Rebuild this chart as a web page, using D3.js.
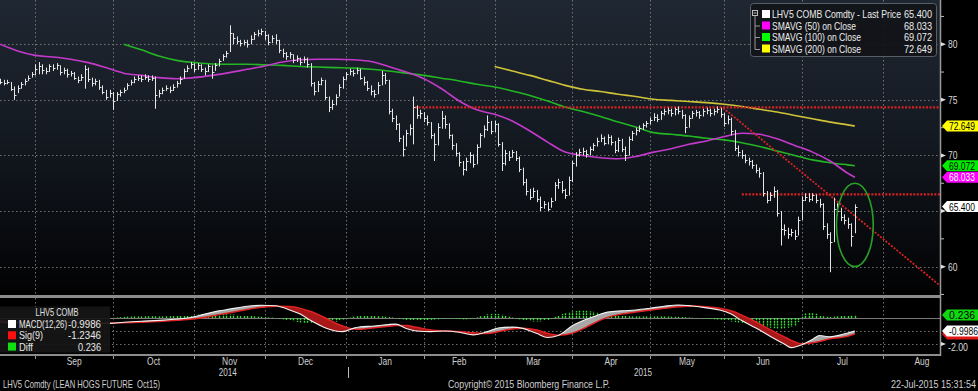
<!DOCTYPE html>
<html><head><meta charset="utf-8">
<script src="https://cdn.jsdelivr.net/npm/d3@7"></script>
<style>
html,body{margin:0;padding:0;background:#000;overflow:hidden;}
svg{display:block;}
text{font-family:"Liberation Sans",Arial,sans-serif;}
</style></head><body>
<svg id="c" width="978" height="391"></svg>
<script>
// ---------- DATA ----------
// daily bars, index = weekday count from 18-Aug-2014 to 22-Jul-2015
const priceHigh = [
76.9,76.8,76.8,76.6,76.2,76.3,76.6,76.9,77.2,77.5,
78.2,78.4,78.2,77.9,78.2,78.2,78.3,78.1,77.9,77.8,
77.6,77.5,77.1,77.3,78.1,77.9,77.0,76.9,76.8,76.3,
75.9,75.9,75.7,75.7,75.9,76.1,76.5,76.8,77.1,77.2,
77.2,77.3,77.2,77.2,77.1,75.9,76.1,76.3,76.2,76.4,
76.7,77.1,77.8,78.1,78.4,78.3,78.3,78.2,77.9,78.2,
78.1,78.3,78.7,79.1,79.4,81.7,81.0,80.7,80.4,80.4,
80.4,80.8,81.1,81.3,81.4,81.2,80.9,80.8,80.9,80.4,
79.6,79.3,79.3,79.1,79.0,78.8,78.9,78.8,78.3,76.6,
76.7,77.0,76.8,75.3,75.0,75.5,76.4,77.1,77.5,77.8,
77.7,77.9,77.8,77.1,76.7,76.3,75.9,76.6,77.6,77.4,
76.8,74.2,73.6,72.9,71.8,72.3,72.8,75.3,74.5,74.1,
73.9,73.6,73.0,72.0,72.9,74.0,73.6,72.9,71.9,71.1,
70.3,69.5,69.8,70.3,70.1,71.0,72.0,72.7,73.6,73.1,
73.1,72.9,71.2,70.5,70.4,70.5,70.4,69.9,68.9,67.9,
67.0,67.1,66.9,66.3,65.9,65.8,66.2,67.6,67.9,67.7,
67.0,68.1,69.5,70.3,70.6,70.7,70.5,70.8,71.1,71.6,
71.9,71.7,71.9,71.8,71.3,71.6,71.5,70.8,71.7,72.2,
72.5,72.7,72.9,73.1,73.4,73.8,73.7,74.0,74.2,74.3,
74.2,74.3,74.4,74.1,73.7,73.6,74.0,74.1,74.0,74.2,
74.3,74.2,74.2,74.4,74.3,73.8,73.6,73.4,72.3,70.9,
70.5,70.1,69.8,69.6,69.2,68.9,68.5,66.8,66.7,67.2,
66.9,65.0,63.8,63.5,63.4,63.3,64.5,66.3,66.6,66.6,
66.6,66.5,66.1,65.7,63.9,63.1,66.2,65.7,65.3,64.7,
64.4,63.9,65.6];
const priceLow = [
76.4,76.3,76.4,75.8,75.0,75.6,76.0,76.3,76.7,77.0,
77.2,77.3,77.3,77.3,77.5,77.6,77.7,77.2,77.3,77.0,
77.1,76.8,76.5,76.7,76.0,76.6,76.2,76.3,75.9,75.5,
75.0,75.2,74.1,74.9,75.3,75.6,75.9,76.3,76.5,76.7,
76.6,76.8,76.6,76.7,74.2,75.2,75.5,75.8,75.6,75.8,
76.1,76.4,76.9,77.5,77.8,77.5,77.7,77.5,77.2,77.5,
76.9,77.6,78.0,78.5,78.8,79.3,80.0,80.0,79.8,79.9,
79.7,80.0,80.4,80.7,80.8,80.4,79.9,80.1,80.0,79.2,
78.8,78.6,78.7,78.3,78.4,78.1,78.3,77.9,76.2,75.4,
75.7,76.3,75.0,73.9,74.1,74.5,75.3,76.0,76.8,77.2,
77.1,77.3,76.8,76.3,75.8,75.4,75.2,75.5,76.3,76.4,
73.7,73.0,72.3,71.2,69.9,70.8,71.8,71.0,73.3,73.3,
73.0,72.7,71.5,69.5,70.9,72.4,72.4,71.5,70.5,69.9,
69.0,68.2,68.6,69.3,68.9,69.2,70.7,71.6,72.2,71.9,
72.1,70.8,68.6,69.1,69.5,69.8,69.5,68.5,67.3,66.4,
66.0,66.2,65.8,65.0,65.2,65.0,65.3,65.9,67.0,66.6,
66.1,66.4,67.6,69.0,69.9,70.0,69.8,70.0,70.4,70.8,
71.2,70.9,71.0,70.9,70.2,70.3,70.3,69.5,70.0,71.3,
71.8,72.1,72.3,72.5,72.8,73.1,73.0,73.2,73.6,73.7,
73.5,73.6,73.7,73.3,72.0,72.5,73.3,73.5,73.3,73.5,
73.7,73.5,73.6,73.8,73.4,72.6,72.8,71.8,70.4,69.9,
69.7,69.3,69.1,68.8,68.4,68.0,66.3,65.7,65.9,66.2,
64.5,61.9,62.8,62.5,62.7,62.4,62.8,64.2,65.9,65.8,
65.9,65.7,65.3,63.3,62.5,59.5,62.2,64.6,64.1,63.8,
63.4,61.8,63.0];
const priceClose = [
76.6,76.5,76.6,76.0,75.4,76.1,76.4,76.7,77.0,77.3,
77.8,78.0,77.7,77.6,78.0,77.9,78.1,77.5,77.7,77.3,
77.4,77.0,76.8,77.1,77.8,76.9,76.5,76.7,76.2,75.7,
75.3,75.6,74.9,75.5,75.7,75.9,76.3,76.6,76.9,77.0,
76.9,77.1,76.9,77.0,75.4,75.6,75.9,76.1,75.9,76.2,
76.5,76.9,77.6,77.9,78.2,77.8,78.1,77.8,77.6,78.0,
77.5,78.1,78.5,78.9,79.2,81.0,80.6,80.3,80.1,80.2,
80.0,80.5,80.9,81.0,81.2,80.8,80.2,80.6,80.4,79.5,
79.2,78.9,79.1,78.6,78.8,78.4,78.7,78.2,76.5,75.8,
76.4,76.8,75.3,74.4,74.6,75.3,76.2,76.9,77.3,77.6,
77.4,77.7,77.0,76.6,76.1,75.8,75.5,76.3,77.2,76.8,
74.0,73.4,72.8,71.6,70.6,72.0,72.5,74.4,73.6,73.8,
73.4,73.0,71.8,71.0,72.6,73.4,72.8,71.8,70.9,70.2,
69.4,68.8,69.5,70.0,69.2,70.8,71.8,72.4,73.0,72.2,
72.8,71.0,69.3,70.2,69.9,70.3,69.8,68.8,67.6,66.8,
66.3,66.8,66.1,65.4,65.6,65.2,65.9,67.3,67.6,66.9,
66.4,67.8,69.3,70.0,70.3,70.4,70.1,70.6,70.9,71.3,
71.6,71.1,71.7,71.2,70.5,71.4,70.6,70.0,71.5,72.0,
72.3,72.5,72.7,72.9,73.2,73.5,73.3,73.8,74.0,74.1,
73.8,74.2,74.0,73.6,72.6,73.4,73.8,73.9,73.6,74.0,
74.1,73.8,74.0,74.2,73.7,72.9,73.3,72.2,70.7,70.3,
70.0,69.6,69.5,69.1,68.7,68.4,66.6,66.0,66.4,66.8,
64.8,63.4,63.3,62.9,63.1,62.8,64.2,66.0,66.3,66.1,
66.4,66.0,65.6,63.7,62.9,62.2,65.2,65.0,64.5,64.2,
63.8,62.8,65.4];

// moving averages sampled at these bar indices
const maIdx = [0,5,10,15,20,25,30,35,40,45,50,55,60,65,70,75,80,85,90,95,100,105,110,115,120,125,130,135,140,145,150,155,160,165,170,175,180,185,190,195,200,205,210,215,220,225,230,235,240,242];
const sma50 = [80.0,79.4,79.0,78.85,78.65,78.35,77.9,77.4,77.2,77.0,76.9,77.0,77.2,77.45,77.75,78.05,78.4,78.6,78.65,78.65,78.6,78.45,78.0,77.5,76.9,76.0,74.9,74.1,73.7,73.1,72.2,71.2,70.3,70.0,69.8,69.7,69.9,70.3,70.6,71.0,71.3,71.7,72.0,71.9,71.5,70.9,70.3,69.5,68.4,68.033];
const sma100 = [null,null,null,null,null,null,null,80.0,79.5,78.95,78.55,78.35,78.22,78.2,78.2,78.15,78.1,78.0,77.95,77.9,77.85,77.75,77.6,77.4,77.2,76.95,76.7,76.4,76.15,75.8,75.4,74.9,74.35,73.95,73.5,73.0,72.55,72.05,71.9,71.75,71.55,71.4,71.15,70.8,70.4,70.0,69.6,69.35,69.15,69.072];
const sma200 = [null,null,null,null,null,null,null,null,null,null,null,null,null,null,null,null,null,null,null,null,null,null,null,null,null,null,null,null,78.0,77.6,77.2,76.75,76.3,75.95,75.75,75.5,75.3,75.05,74.95,74.85,74.75,74.6,74.4,74.15,73.9,73.6,73.3,73.0,72.75,72.649];

// MACD(12,26) and Sig(9), sampled at these bar indices
const macdIdx = [0,5,10,15,20,25,31,35,40,45,50,53,58,62,65,70,74,78,82,85,88,92,95,97,100,102,106,110,112,115,118,122,126,130,134,138,141,145,148,152,155,158,162,166,168,172,176,180,184,188,192,196,200,204,207,210,214,218,222,224,227,230,232,235,238,240,242];
const macdLine = [-0.30,-0.38,-0.35,-0.30,-0.34,-0.40,-0.41,-0.33,-0.25,-0.18,-0.08,0.0,0.30,0.55,0.68,0.90,0.98,0.94,0.62,0.30,-0.20,-0.75,-1.00,-1.05,-0.80,-0.67,-0.62,-0.50,-0.47,-0.80,-1.00,-1.05,-1.00,-1.10,-1.30,-1.05,-0.77,-0.70,-0.80,-1.20,-1.50,-1.35,-0.60,-0.10,0.10,0.45,0.55,0.62,0.75,0.90,1.00,0.92,0.78,0.60,0.30,-0.20,-0.77,-1.40,-2.00,-2.28,-2.05,-1.65,-1.35,-1.45,-1.30,-1.15,-0.9986];
const sigLine = [-0.20,-0.26,-0.30,-0.32,-0.33,-0.36,-0.38,-0.37,-0.33,-0.26,-0.18,-0.12,0.06,0.26,0.40,0.66,0.82,0.91,0.88,0.74,0.50,0.02,-0.40,-0.62,-0.84,-0.86,-0.75,-0.64,-0.57,-0.58,-0.72,-0.92,-1.0,-1.04,-1.14,-1.20,-1.06,-0.84,-0.78,-0.93,-1.18,-1.32,-1.17,-0.70,-0.42,0.05,0.30,0.46,0.60,0.74,0.86,0.93,0.87,0.74,0.56,0.22,-0.30,-0.90,-1.45,-1.72,-1.98,-1.90,-1.80,-1.60,-1.50,-1.40,-1.2346];
// Diff histogram, one value per bar
const macdDiff = [
-0.05,-0.06,-0.07,-0.08,-0.09,-0.08,-0.06,-0.04,-0.02,0.0,
0.02,0.04,0.05,0.06,0.06,0.05,0.04,0.02,0.0,-0.02,
-0.03,-0.04,-0.05,-0.05,-0.04,-0.04,-0.03,-0.02,-0.02,-0.02,
-0.01,0.0,0.02,0.04,0.06,0.08,0.1,0.11,0.12,0.12,
0.12,0.13,0.14,0.14,0.13,0.12,0.12,0.13,0.14,0.15,
0.16,0.17,0.18,0.2,0.22,0.24,0.26,0.27,0.28,0.28,
0.28,0.29,0.3,0.3,0.29,0.27,0.26,0.24,0.22,0.2,
0.18,0.15,0.13,0.11,0.09,0.07,0.05,0.03,0.0,-0.05,
-0.1,-0.15,-0.2,-0.25,-0.3,-0.34,-0.38,-0.4,-0.42,-0.43,
-0.43,-0.42,-0.4,-0.38,-0.34,-0.28,-0.2,-0.12,-0.04,0.04,
0.1,0.14,0.17,0.18,0.18,0.17,0.16,0.14,0.12,0.1,
0.07,0.04,0.0,-0.05,-0.1,-0.15,-0.18,-0.2,-0.2,-0.19,
-0.18,-0.16,-0.14,-0.12,-0.1,-0.06,-0.03,-0.02,-0.04,-0.06,
-0.08,-0.1,-0.1,-0.08,-0.04,0.05,0.14,0.22,0.28,0.31,
0.32,0.3,0.25,0.18,0.1,0.04,-0.03,-0.1,-0.15,-0.2,
-0.24,-0.26,-0.27,-0.26,-0.22,-0.15,-0.05,0.08,0.2,0.3,
0.38,0.45,0.5,0.54,0.56,0.56,0.55,0.52,0.48,0.44,
0.4,0.36,0.32,0.28,0.24,0.2,0.17,0.15,0.13,0.12,
0.12,0.12,0.12,0.12,0.12,0.12,0.12,0.12,0.12,0.11,
0.1,0.1,0.09,0.08,0.06,0.04,0.02,0.0,-0.02,-0.04,
-0.06,-0.08,-0.1,-0.12,-0.14,-0.18,-0.22,-0.26,-0.3,-0.35,
-0.4,-0.45,-0.5,-0.55,-0.6,-0.64,-0.68,-0.72,-0.75,-0.78,
-0.8,-0.8,-0.78,-0.75,-0.7,-0.6,-0.3,0.1,0.35,0.42,
0.4,0.32,0.22,0.14,0.1,0.08,0.1,0.13,0.16,0.19,
0.21,0.23,0.236];

// axis categories
const monthStartIdx = [10,32,55,75,98,120,140,162,184,205,227,250,272];
const monthLabels = ["Sep","Oct","Nov","Dec","Jan","Feb","Mar","Apr","May","Jun","Jul","Aug"];
const yearLabels = ["2014","2015"];
const yearLabelIdx = [64.5,182];
const yearBreakIdx = [98.5];
const priceTicks = [60,65,70,75,80];
const priceMinorTicks = [57.5,62.5,67.5,72.5,77.5,82.5];
const macdGrid = [-1,-2];

// annotations (drawn in data coordinates)
const resistLevels = [74.33, 66.5];
const resistStartIdx = [117.5, 210];
const trendIdx = [204.7, 266.1];
const trendPrice = [74.27, 58.3];
const ellipseCenter = [242, 63.75];
const ellipseRadius = [5.2, 3.75];

// legend / tags
const legendNames = ["LHV5 COMB Comdty - Last Price","SMAVG (50) on Close","SMAVG (100) on Close","SMAVG (200) on Close"];
const legendValues = ["65.400","68.033","69.072","72.649"];
const legendColors = ["#ffffff","#ff00ff","#00ff00","#ffff00"];
const macdNames = ["MACD(12,26)","Sig(9)","Diff"];
const macdValues = ["-0.9986","-1.2346","0.236"];
const macdColors = ["#ffffff","#ff1010","#10e010"];

// ---------- DRAW ----------
const svg = d3.select("#c");
const PW = 940, MT = 0, MB = 295, ST = 298, SB = 354;
const FS = 10.5;
const x = d3.scaleLinear().domain([0, 266.1]).range([0, PW]);
const y = d3.scaleLinear().domain([57.45, 83.98]).range([MB, MT]);
const ym = d3.scaleLinear().domain([-2.8, 1.6]).range([318 + 2.8*13, 318 - 1.6*13]);

const defs = svg.append("defs");
const g = defs.append("linearGradient").attr("id","bg").attr("x1",0).attr("y1",0).attr("x2",0).attr("y2",1);
g.append("stop").attr("offset","0%").attr("stop-color","#1f2732");
g.append("stop").attr("offset","45%").attr("stop-color","#141a22");
g.append("stop").attr("offset","100%").attr("stop-color","#020203");
defs.append("clipPath").attr("id","mainClip").append("rect").attr("x",0).attr("y",MT).attr("width",PW).attr("height",MB-MT);
defs.append("clipPath").attr("id","subClip").append("rect").attr("x",0).attr("y",ST).attr("width",PW).attr("height",SB-ST);

svg.append("rect").attr("width",978).attr("height",391).attr("fill","#000");
svg.append("rect").attr("x",0).attr("y",MT).attr("width",PW).attr("height",MB-MT).attr("fill","url(#bg)");

// grid
const grid = svg.append("g").attr("stroke","#727272").attr("stroke-width",1).attr("stroke-dasharray","1.5,2.5").attr("fill","none");
priceTicks.forEach(p => grid.append("line").attr("x1",0).attr("x2",PW).attr("y1",Math.round(y(p))+0.5).attr("y2",Math.round(y(p))+0.5));
macdGrid.forEach(v => grid.append("line").attr("x1",0).attr("x2",PW).attr("y1",Math.round(ym(v))+0.5).attr("y2",Math.round(ym(v))+0.5));
monthStartIdx.forEach(i => {
  if (x(i) >= PW) return;
  const xx = Math.round(x(i))+0.5;
  grid.append("line").attr("x1",xx).attr("x2",xx).attr("y1",MT).attr("y2",MB);
  grid.append("line").attr("x1",xx).attr("x2",xx).attr("y1",ST).attr("y2",SB);
});

// main plot
const main = svg.append("g").attr("clip-path","url(#mainClip)");
const maLine = vals => d3.line().defined((d,k)=>vals[k]!=null).x((d,k)=>x(maIdx[k])).y((d,k)=>y(vals[k])).curve(d3.curveMonotoneX)(maIdx);
main.append("path").attr("d",maLine(sma200)).attr("fill","none").attr("stroke","#cfc33a").attr("stroke-width",1.6);
main.append("path").attr("d",maLine(sma100)).attr("fill","none").attr("stroke","#23b523").attr("stroke-width",1.6);
main.append("path").attr("d",maLine(sma50)).attr("fill","none").attr("stroke","#c33acb").attr("stroke-width",1.6);

// red annotations
const red = main.append("g").attr("stroke","#d82222").attr("fill","none");
resistLevels.forEach((p,k)=> red.append("line").attr("x1",x(resistStartIdx[k])).attr("x2",PW).attr("y1",y(p)).attr("y2",y(p)).attr("stroke-width",2.2).attr("stroke-dasharray","2,1.5"));
red.append("line").attr("x1",x(trendIdx[0])).attr("y1",y(trendPrice[0])).attr("x2",x(trendIdx[1])).attr("y2",y(trendPrice[1])).attr("stroke-width",1.8).attr("stroke-dasharray","2,1.5");

// bars
const bars = main.append("g").attr("stroke","#e6e6e6").attr("stroke-width",1);
priceClose.forEach((c,i)=>{
  const xx = Math.round(x(i))+0.5;
  bars.append("line").attr("x1",xx).attr("x2",xx).attr("y1",y(priceHigh[i])).attr("y2",y(priceLow[i]));
  bars.append("line").attr("x1",xx).attr("x2",xx+2).attr("y1",Math.round(y(c))+0.5).attr("y2",Math.round(y(c))+0.5);
});

// ellipse
main.append("ellipse").attr("cx",x(ellipseCenter[0])).attr("cy",y(ellipseCenter[1]))
  .attr("rx",x(ellipseRadius[0])-x(0)).attr("ry",y(ellipseCenter[1]-ellipseRadius[1])-y(ellipseCenter[1]))
  .attr("fill","none").attr("stroke","#2aa02a").attr("stroke-width",1.6);

// separators & borders
svg.append("rect").attr("x",0).attr("y",295).attr("width",PW).attr("height",3).attr("fill","#8c8c8c");
svg.append("rect").attr("x",0).attr("y",SB).attr("width",PW).attr("height",2).attr("fill","#8c8c8c");
svg.append("line").attr("x1",0).attr("x2",PW).attr("y1",318.5).attr("y2",318.5).attr("stroke","#7a7a7a").attr("stroke-width",1);
svg.append("line").attr("x1",PW+0.5).attr("x2",PW+0.5).attr("y1",0).attr("y2",SB+2).attr("stroke","#9a9a9a").attr("stroke-width",1.5);

// MACD panel
const sub = svg.append("g").attr("clip-path","url(#subClip)");
const diffG = sub.append("g").attr("stroke","#34e034").attr("stroke-width",1.4).attr("stroke-dasharray","2,0.8");
macdDiff.forEach((v,i)=>{
  const xx = Math.round(x(i))+0.5;
  diffG.append("line").attr("x1",xx).attr("x2",xx).attr("y1",ym(0)).attr("y2",ym(v));
});
const pts = macdIdx.map((i,k)=>({i, m:macdLine[k], s:sigLine[k]}));
const cv = d3.curveMonotoneX;
const band = d3.area().x(d=>x(d.i)).y0(d=>ym(d.m)).y1(d=>ym(d.s)).curve(cv);
defs.append("clipPath").attr("id","aboveSig").append("path").attr("d", d3.area().x(d=>x(d.i)).y0(ST-5).y1(d=>ym(d.s)).curve(cv)(pts));
defs.append("clipPath").attr("id","belowSig").append("path").attr("d", d3.area().x(d=>x(d.i)).y0(d=>ym(d.s)).y1(SB+5).curve(cv)(pts));
sub.append("path").attr("d",band(pts)).attr("fill","#a8a8a8").attr("clip-path","url(#aboveSig)");
sub.append("path").attr("d",band(pts)).attr("fill","#a81818").attr("clip-path","url(#belowSig)");
sub.append("path").attr("d",d3.line().x(d=>x(d.i)).y(d=>ym(d.s)).curve(cv)(pts)).attr("fill","none").attr("stroke","#e02222").attr("stroke-width",1.5);
sub.append("path").attr("d",d3.line().x(d=>x(d.i)).y(d=>ym(d.m)).curve(cv)(pts)).attr("fill","none").attr("stroke","#f2f2f2").attr("stroke-width",1.1);

// text helper: condensed lettering like the narrow Bloomberg terminal font
function txt(sel, xx, yy, s, opts = {}) {
  const t = sel.append("text").attr("x",xx).attr("y",yy).attr("font-size",opts.size||FS)
    .attr("fill",opts.fill||"#d8d8d8").text(s);
  if (opts.anchor) t.attr("text-anchor",opts.anchor);
  const w = opts.width || t.node().getComputedTextLength()*0.765;
  t.attr("textLength", w.toFixed(1)).attr("lengthAdjust","spacingAndGlyphs");
  return t;
}

// right axis ticks
const ax = svg.append("g");
const tagged = legendValues.map(v=>+v);
priceTicks.forEach(p=>{
  const yy = y(p);
  ax.append("path").attr("d",`M${PW+1},${yy-2}L${PW+6},${yy}L${PW+1},${yy+2}Z`).attr("fill","#e0e0e0");
  // a label lying under a value tag is covered in the original, so it is not drawn
  if (tagged.some(t => Math.abs(y(t)-yy) < 9)) return;
  txt(ax, PW+8, yy+4, String(p), {size:11, width:9.5});
});
priceMinorTicks.forEach(p=> ax.append("line").attr("x1",PW+1).attr("x2",PW+4).attr("y1",y(p)).attr("y2",y(p)).attr("stroke","#bbb"));
ax.append("path").attr("d",`M${PW+1},${ym(-2)-2}L${PW+6},${ym(-2)}L${PW+1},${ym(-2)+2}Z`).attr("fill","#e0e0e0");
txt(ax, PW+8, ym(-2)+7, "-2.00", {size:11, width:20});

// value tags
function tag(yy, fill, txtColor, label){
  const h = 5.5;
  ax.append("path").attr("d",`M${PW+2},${yy}L${PW+7},${yy-h}L978,${yy-h}L978,${yy+h}L${PW+7},${yy+h}Z`).attr("fill",fill);
  if (label) txt(ax, PW+9, yy+4, label, {size:11, fill:txtColor, width: label.length>6 ? 29 : 26});
}
tag(y(+legendValues[3]), "#ffff00", "#000", legendValues[3]);
tag(y(+legendValues[2]), "#00ee00", "#000", legendValues[2]);
tag(y(+legendValues[1]), "#ff00ff", "#fff", legendValues[1]);
tag(y(+legendValues[0]), "#ffffff", "#000", legendValues[0]);
tag(ym(+macdValues[1]), "#e01818", "#fff", null);   // signal tag, lying under the MACD tag
tag(ym(+macdValues[0]), "#ffffff", "#000", macdValues[0]);
tag(ym(+macdValues[2]), "#10d810", "#000", macdValues[2]);

// main legend
const legendNameW = [129, 84, 89, 89];
const lg = svg.append("g");
lg.append("rect").attr("x",750.5).attr("y",3.5).attr("width",186).attr("height",53).attr("rx",3).attr("fill","#111418").attr("fill-opacity",0.92).attr("stroke","#5a5f66");
lg.append("rect").attr("x",752.5).attr("y",10.5).attr("width",5).attr("height",5).attr("fill","none").attr("stroke","#bbb");
lg.append("line").attr("x1",753.5).attr("x2",756.5).attr("y1",13).attr("y2",13).attr("stroke","#bbb");
lg.append("path").attr("d","M755,16V49.5M755,26H760M755,37.5H760M755,49.5H760").attr("stroke","#999").attr("fill","none");
legendNames.forEach((n,k)=>{
  const by = 18 + k*11.5;
  lg.append("rect").attr("x",762).attr("y",by-8).attr("width",8).attr("height",8).attr("fill",legendColors[k]);
  txt(lg, 772, by, n, {size:11, fill:"#ececec", width:legendNameW[k]});
  txt(lg, 932, by, legendValues[k], {size:11, fill:"#ececec", anchor:"end", width:28});
});

// macd legend
const macdNameW = [48, 24, 14], macdValW = [33, 33, 23];
const ml = svg.append("g");
ml.append("rect").attr("x",0).attr("y",306.5).attr("width",110).attr("height",46).attr("fill","#151515").attr("fill-opacity",0.93);
txt(ml, 57, 316, "LHV5 COMB", {size:10.5, fill:"#e0e0e0", anchor:"middle", width:43});
macdNames.forEach((n,k)=>{
  const by = 328 + k*11.3;
  ml.append("rect").attr("x",8).attr("y",by-8).attr("width",8).attr("height",8).attr("fill",macdColors[k]);
  txt(ml, 19, by, n, {size:11, fill:"#e8e8e8", width:macdNameW[k]});
  txt(ml, 101, by, macdValues[k], {size:11, fill:"#e8e8e8", anchor:"end", width:macdValW[k]});
});

// x axis
const xa = svg.append("g");
monthLabels.forEach((m,k)=>{
  const xm = x((monthStartIdx[k]+monthStartIdx[k+1])/2);
  txt(xa, xm, 365, m, {size:11, fill:"#d0d0d0", anchor:"middle"});
});
monthStartIdx.forEach(i=>{ if (x(i)<PW) svg.append("line").attr("x1",Math.round(x(i))+0.5).attr("x2",Math.round(x(i))+0.5).attr("y1",356).attr("y2",359).attr("stroke","#999"); });
yearLabels.forEach((t,k)=> txt(xa, x(yearLabelIdx[k]), 376, t, {size:11, fill:"#d0d0d0", anchor:"middle", width:18}));
yearBreakIdx.forEach(i=> svg.append("line").attr("x1",Math.round(x(i))+0.5).attr("x2",Math.round(x(i))+0.5).attr("y1",367).attr("y2",378).attr("stroke","#bbb"));

// footer
const ft = svg.append("g");
txt(ft, 3, 388, "LHV5 Comdty (LEAN HOGS FUTURE  Oct15)", {size:11, fill:"#cfcfcf", width:157}).attr("xml:space","preserve");
txt(ft, 448, 388, "Copyright\u00a9 2015 Bloomberg Finance L.P.", {size:11, fill:"#cfcfcf", width:162});
txt(ft, 976, 388, "22-Jul-2015 15:31:54", {size:11, fill:"#cfcfcf", anchor:"end", width:85});
</script></body></html>
